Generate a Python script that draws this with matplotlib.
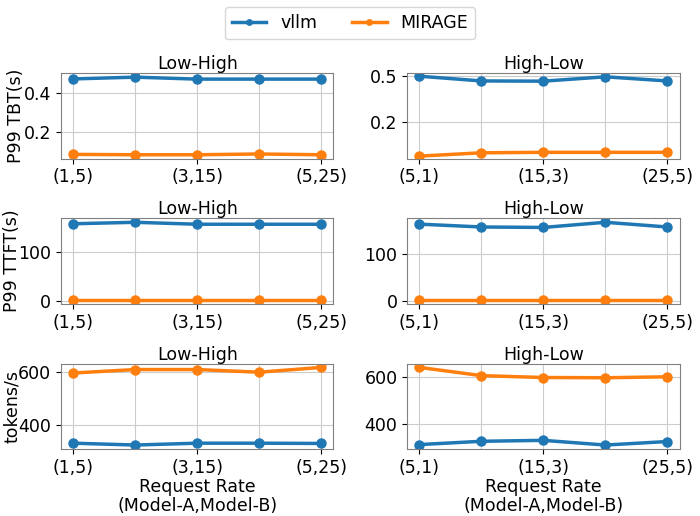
import matplotlib
matplotlib.use("Agg")
import matplotlib.pyplot as plt
from matplotlib.ticker import FixedLocator, NullLocator, FormatStrFormatter

# x axis: request rates (Model-A, Model-B)
lh_labels = ["(1,5)", "(2,10)", "(3,15)", "(4,20)", "(5,25)"]
hl_labels = ["(5,1)", "(10,2)", "(15,3)", "(20,4)", "(25,5)"]

# P99 TBT (s)
tbt_lh_vllm = [0.472, 0.481, 0.471, 0.471, 0.471]
tbt_lh_mirage = [0.086, 0.084, 0.084, 0.088, 0.084]
tbt_hl_vllm = [0.500, 0.455, 0.453, 0.494, 0.455]
tbt_hl_mirage = [0.102, 0.109, 0.110, 0.110, 0.110]

# P99 TTFT (s)
ttft_lh_vllm = [157, 160, 156, 156, 156]
ttft_lh_mirage = [1.5, 1.5, 1.5, 1.5, 1.5]
ttft_hl_vllm = [163, 157, 156, 167, 157]
ttft_hl_mirage = [1.5, 1.5, 1.5, 1.5, 1.5]

# throughput (tokens/s)
thr_lh_vllm = [332, 325, 332, 332, 331]
thr_lh_mirage = [597, 610, 610, 600, 618]
thr_hl_vllm = [313, 327, 331, 311, 326]
thr_hl_mirage = [642, 607, 599, 598, 602]

rows = [
    ("P99 TBT(s)", (tbt_lh_vllm, tbt_lh_mirage), (tbt_hl_vllm, tbt_hl_mirage)),
    ("P99 TTFT(s)", (ttft_lh_vllm, ttft_lh_mirage), (ttft_hl_vllm, ttft_hl_mirage)),
    ("tokens/s", (thr_lh_vllm, thr_lh_mirage), (thr_hl_vllm, thr_hl_mirage)),
]
ylabel_x = [-0.132, -0.148, -0.148]

fs = 12.5
fig, axes = plt.subplots(3, 2, figsize=(7, 5.16), dpi=100)
plt.subplots_adjust(left=0.087, right=0.971, top=0.858, bottom=0.130,
                    wspace=0.27, hspace=0.70)

for r, (ylab, lh, hl) in enumerate(rows):
    for c, (data, labels, title) in enumerate([(lh, lh_labels, "Low-High"),
                                                (hl, hl_labels, "High-Low")]):
        ax = axes[r, c]
        x = list(range(len(labels)))
        ax.plot(x, data[0], marker="o", lw=2.5, ms=6.5, color="#1f77b4", label="vllm")
        ax.plot(x, data[1], marker="o", lw=2.5, ms=6.5, color="#ff7f0e", label="MIRAGE")
        ax.set_title(title, fontsize=fs, pad=2)
        ax.set_xticks(x[::2])
        ax.set_xticklabels(labels[::2], fontsize=fs)
        ax.set_xticks(x, minor=True)
        ax.tick_params(axis="x", which="minor", length=0)
        ax.tick_params(axis="y", labelsize=fs)
        ax.grid(True, which="both", axis="x", color="#cccccc", lw=0.8)
        ax.grid(True, which="major", axis="y", color="#cccccc", lw=0.8)
        for s in ax.spines.values():
            s.set_color("#808080")
        if c == 0:
            ax.set_ylabel(ylab, fontsize=fs)
            ax.yaxis.set_label_coords(ylabel_x[r], 0.5)
        if r == 2:
            ax.set_xlabel("Request Rate\n(Model-A,Model-B)", fontsize=fs,
                          labelpad=1, linespacing=1.1)

# y ticks per panel
axes[0, 0].set_yticks([0.2, 0.4])
axes[0, 1].set_yscale("log")
axes[0, 1].yaxis.set_major_locator(FixedLocator([0.2, 0.5]))
axes[0, 1].yaxis.set_minor_locator(NullLocator())
axes[0, 1].yaxis.set_major_formatter(FormatStrFormatter("%.1f"))
axes[0, 1].set_ylim(0.097, 0.53)
for ax in axes[1]:
    ax.set_yticks([0, 100])
for ax in axes[2]:
    ax.set_yticks([400, 600])

handles, labels = axes[0, 0].get_legend_handles_labels()
fig.legend(handles, labels, loc="upper center", ncol=2, fontsize=fs,
           bbox_to_anchor=(0.5, 1.003), frameon=True, columnspacing=2.0,
           markerscale=0.6)

fig.savefig("out.png", dpi=100)
